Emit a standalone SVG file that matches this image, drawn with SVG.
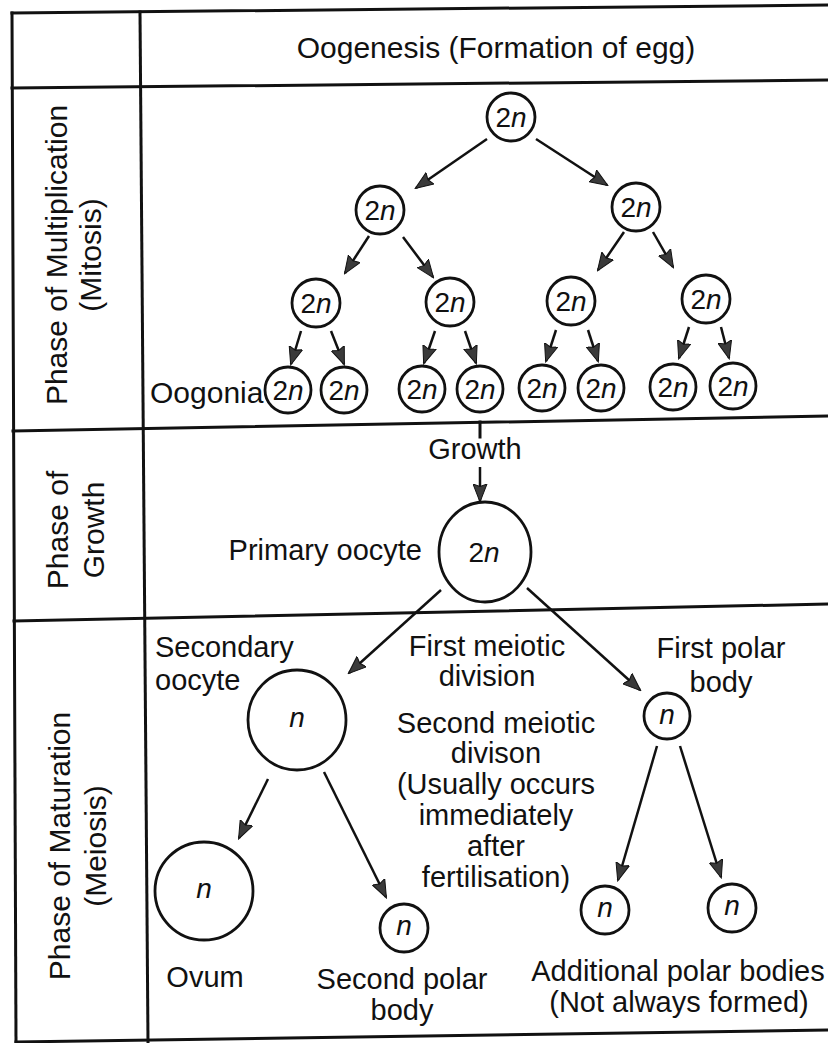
<svg xmlns="http://www.w3.org/2000/svg" width="828" height="1043" viewBox="0 0 828 1043">
<style>
text{font-family:"Liberation Sans",Arial,Helvetica,sans-serif;font-size:29px;fill:#111}
.c{text-anchor:middle}
.t{font-size:28px}
.i{font-style:italic}
.grid{stroke:#111;stroke-width:3;fill:none;stroke-linecap:square}
.node{fill:#fff;stroke:#111;stroke-width:2.8}
.conn line{stroke:#111;stroke-width:2.5;marker-end:url(#ah)}
</style>
<defs>
<marker id="ah" markerWidth="19" markerHeight="15" refX="17" refY="7.5" orient="auto" markerUnits="userSpaceOnUse">
<path d="M0,0.5 L18,7.5 L0,14.5 L2.5,7.5 z" fill="#3a3a3a" stroke="#111" stroke-width="1"/>
</marker>
</defs>
<rect width="828" height="1043" fill="#fff"/>
<g id="table" class="grid">
<line x1="12" y1="13" x2="828" y2="5"/>
<line x1="12" y1="88" x2="828" y2="80"/>
<line x1="13" y1="431" x2="828" y2="416"/>
<line x1="14" y1="621" x2="828" y2="604"/>
<line x1="16" y1="1042" x2="828" y2="1030"/>
<line x1="12" y1="13" x2="16" y2="1042"/>
<line x1="140" y1="12" x2="148" y2="1042"/>
<line x1="480" y1="422" x2="480" y2="437"/>
</g>
<g id="header"><text class="c" x="496" y="58" style="font-size:30px">Oogenesis (Formation of egg)</text></g>
<g id="label-multiplication">
<text class="c" transform="translate(67,255) rotate(-90)" style="font-size:30px">Phase of Multiplication</text>
<text class="c" transform="translate(101,255) rotate(-90)" style="font-size:30px">(Mitosis)</text>
</g>
<g id="label-growth">
<text class="c" transform="translate(68,530) rotate(-90)" style="font-size:30px">Phase of</text>
<text class="c" transform="translate(104,530) rotate(-90)" style="font-size:30px">Growth</text>
</g>
<g id="label-maturation">
<text class="c" transform="translate(70,846) rotate(-90)" style="font-size:30px">Phase of Maturation</text>
<text class="c" transform="translate(106,846) rotate(-90)" style="font-size:30px">(Meiosis)</text>
</g>

<g class="conn" id="connectors">
<line x1="487" y1="139" x2="416" y2="188"/>
<line x1="536" y1="139" x2="607" y2="185"/>
<line x1="369" y1="236" x2="345" y2="273"/>
<line x1="403" y1="237" x2="433" y2="277"/>
<line x1="624" y1="232" x2="598" y2="270"/>
<line x1="653" y1="232" x2="673" y2="267"/>
<line x1="301" y1="331" x2="291" y2="364"/>
<line x1="331" y1="331" x2="344" y2="364"/>
<line x1="435" y1="331" x2="424" y2="363"/>
<line x1="465" y1="331" x2="476" y2="363"/>
<line x1="556" y1="330" x2="546" y2="361"/>
<line x1="588" y1="330" x2="598" y2="361"/>
<line x1="689" y1="327" x2="679" y2="358"/>
<line x1="721" y1="327" x2="729" y2="358"/>
<line x1="480" y1="467" x2="480" y2="501"/>
<line x1="441" y1="590" x2="349" y2="673"/>
<line x1="527" y1="588" x2="640" y2="690"/>
<line x1="268" y1="779" x2="239" y2="838"/>
<line x1="324" y1="772" x2="386" y2="897"/>
<line x1="657" y1="746" x2="618" y2="880"/>
<line x1="680" y1="746" x2="721" y2="877"/>
</g>

<g id="n-root"><circle class="node" cx="511" cy="117" r="24"/><text class="c t" x="511" y="127">2<tspan class="i">n</tspan></text></g>
<g id="n-l2a"><circle class="node" cx="380" cy="210" r="24"/><text class="c t" x="380" y="220">2<tspan class="i">n</tspan></text></g>
<g id="n-l2b"><circle class="node" cx="636" cy="207" r="24"/><text class="c t" x="636" y="217">2<tspan class="i">n</tspan></text></g>
<g id="n-l3a"><circle class="node" cx="316" cy="303" r="24"/><text class="c t" x="316" y="313">2<tspan class="i">n</tspan></text></g>
<g id="n-l3b"><circle class="node" cx="450" cy="302" r="24"/><text class="c t" x="450" y="312">2<tspan class="i">n</tspan></text></g>
<g id="n-l3c"><circle class="node" cx="571" cy="301" r="24"/><text class="c t" x="571" y="311">2<tspan class="i">n</tspan></text></g>
<g id="n-l3d"><circle class="node" cx="706" cy="299" r="24"/><text class="c t" x="706" y="309">2<tspan class="i">n</tspan></text></g>

<g id="oogonia-label"><text x="150" y="403" style="font-size:30px">Oogonia</text></g>
<g id="o1"><circle class="node" cx="288" cy="390" r="23"/><text class="c t" x="288" y="400">2<tspan class="i">n</tspan></text></g>
<g id="o2"><circle class="node" cx="344" cy="390" r="23"/><text class="c t" x="344" y="400">2<tspan class="i">n</tspan></text></g>
<g id="o3"><circle class="node" cx="422" cy="389" r="23"/><text class="c t" x="422" y="399">2<tspan class="i">n</tspan></text></g>
<g id="o4"><circle class="node" cx="480" cy="389" r="23"/><text class="c t" x="480" y="399">2<tspan class="i">n</tspan></text></g>
<g id="o5"><circle class="node" cx="542" cy="388" r="23"/><text class="c t" x="542" y="398">2<tspan class="i">n</tspan></text></g>
<g id="o6"><circle class="node" cx="601" cy="388" r="23"/><text class="c t" x="601" y="398">2<tspan class="i">n</tspan></text></g>
<g id="o7"><circle class="node" cx="673" cy="387" r="23"/><text class="c t" x="673" y="397">2<tspan class="i">n</tspan></text></g>
<g id="o8"><circle class="node" cx="733" cy="386" r="23"/><text class="c t" x="733" y="396">2<tspan class="i">n</tspan></text></g>

<g id="growth-label"><text class="c" x="475" y="459">Growth</text></g>
<g id="primary-oocyte">
<ellipse class="node" cx="485" cy="552" rx="46" ry="50"/>
<text class="c t" x="484" y="562">2<tspan class="i">n</tspan></text>
<text x="422" y="560" style="text-anchor:end">Primary oocyte</text>
</g>

<g id="secondary-oocyte">
<ellipse class="node" cx="297" cy="720" rx="49" ry="50"/>
<text class="c t i" x="297" y="727">n</text>
<text x="155" y="657">Secondary</text>
<text x="155" y="690">oocyte</text>
</g>
<g id="first-meiotic-label">
<text class="c" x="487" y="656">First meiotic</text>
<text class="c" x="487" y="686">division</text>
</g>
<g id="first-polar-body">
<circle class="node" cx="667" cy="716" r="23"/>
<text class="c t i" x="667" y="724">n</text>
<text class="c" x="721" y="658">First polar</text>
<text class="c" x="721" y="692">body</text>
</g>
<g id="second-meiotic-label">
<text class="c" x="496" y="733">Second meiotic</text>
<text class="c" x="496" y="763">divison</text>
<text class="c" x="496" y="794">(Usually occurs</text>
<text class="c" x="496" y="825">immediately</text>
<text class="c" x="496" y="856">after</text>
<text class="c" x="496" y="887">fertilisation)</text>
</g>
<g id="ovum">
<ellipse class="node" cx="204" cy="891" rx="49" ry="49"/>
<text class="c t i" x="204" y="898">n</text>
<text class="c" x="205" y="987">Ovum</text>
</g>
<g id="second-polar-body">
<circle class="node" cx="404" cy="928" r="24"/>
<text class="c t i" x="404" y="935">n</text>
<text class="c" x="402" y="989">Second polar</text>
<text class="c" x="402" y="1020">body</text>
</g>
<g id="additional-polar-1"><circle class="node" cx="605" cy="910" r="24"/><text class="c t i" x="605" y="917">n</text></g>
<g id="additional-polar-2"><circle class="node" cx="732" cy="908" r="24"/><text class="c t i" x="732" y="915">n</text></g>
<g id="additional-label">
<text class="c" x="678" y="981">Additional polar bodies</text>
<text class="c" x="679" y="1012">(Not always formed)</text>
</g>
</svg>
